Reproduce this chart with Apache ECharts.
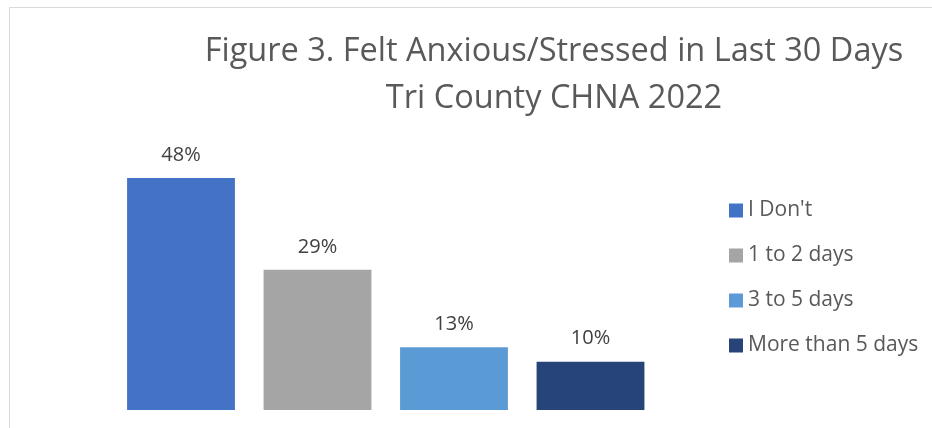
<!DOCTYPE html>
<html>
<head>
<meta charset="utf-8">
<script src="https://cdn.jsdelivr.net/npm/echarts@6/dist/echarts.min.js"></script>
<style>
  html, body { margin: 0; padding: 0; background: #fff; }
  #chart { width: 932px; height: 428px; }
</style>
</head>
<body>
<div id="chart"></div>
<script>
// data
const categories = ["I Don't", '1 to 2 days', '3 to 5 days', 'More than 5 days'];
const percentValues = [48, 29, 13, 10];
const barColors = ['#4472c4', '#a5a5a5', '#5b9bd5', '#264478'];
const titleLines = ['Figure 3. Felt Anxious/Stressed in Last 30 Days', 'Tri County CHNA 2022'];

const chart = echarts.init(document.getElementById('chart'));

// one series per category so each gets its own legend entry
const series = categories.map((name, i) => ({
  name: name,
  type: 'bar',
  stack: 'all',
  barCategoryGap: '21%',
  itemStyle: { color: barColors[i] },
  label: {
    show: true,
    position: 'top',
    distance: 13,
    formatter: '{c}%',
    color: '#404040',
    fontSize: 20,
    fontFamily: 'Open Sans'
  },
  data: percentValues.map((v, j) => (j === i ? v : '-'))
}));

const option = {
  animation: false,
  backgroundColor: '#fff',
  graphic: [{
    type: 'rect',
    shape: { x: 9.5, y: 7.5, width: 940, height: 440 },
    style: { fill: 'none', stroke: '#d9d9d9', lineWidth: 1 }
  }],
  title: {
    text: titleLines.join('\n'),
    left: 549,
    top: 23,
    textAlign: 'center',
    textStyle: {
      fontFamily: 'Open Sans',
      fontWeight: 'normal',
      fontSize: 32.5,
      lineHeight: 47,
      color: '#595959'
    }
  },
  legend: {
    orient: 'vertical',
    left: 724,
    top: 195,
    itemWidth: 14,
    itemHeight: 14,
    itemGap: 24,
    icon: 'rect',
    textStyle: { fontFamily: 'Open Sans', fontSize: 21, color: '#595959' },
    data: categories
  },
  grid: { left: 112.75, top: 120, width: 546, height: 290 },
  xAxis: {
    type: 'category',
    data: categories,
    axisLine: { show: false },
    axisTick: { show: false },
    axisLabel: { show: false }
  },
  yAxis: {
    type: 'value',
    min: 0,
    max: 60,
    show: false,
    splitLine: { show: false }
  },
  series: series
};

chart.setOption(option);
</script>
</body>
</html>
